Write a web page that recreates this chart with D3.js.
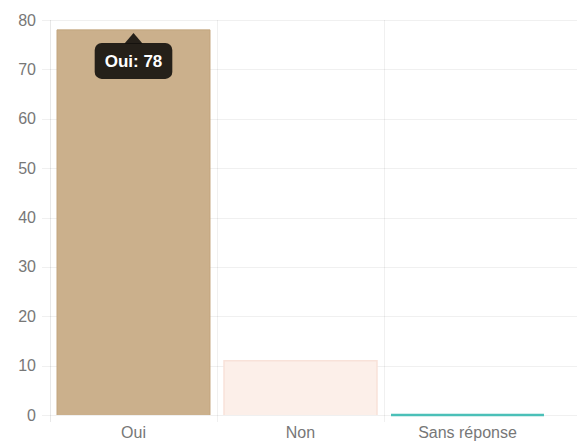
<!DOCTYPE html>
<html>
<head>
<meta charset="utf-8">
<script src="https://cdn.jsdelivr.net/npm/d3@7"></script>
<style>
  html, body { margin: 0; padding: 0; background: #fff; }
  svg { display: block; }
  text { font-family: "Liberation Sans", Arial, Helvetica, sans-serif; }
</style>
</head>
<body>
<script>
// ---- data ----
const categories = ["Oui", "Non", "Sans réponse"];
const values = [78, 11, 0];
const yTickValues = [0, 10, 20, 30, 40, 50, 60, 70, 80];
const tooltipIndex = 0;

// ---- styles ----
const fillColors = ["#cbb08c", "#fcefe9", "rgba(75,192,192,0.2)"];
const strokeColors = ["#c3a57e", "#f8e2d9", "#4bc0b8"];
const strokeWidths = [1, 1.5, 2.5];

const W = 577, H = 442;
const svg = d3.select("body").append("svg").attr("width", W).attr("height", H);

const x = d3.scaleBand().domain(categories).range([50, 551])
  .paddingInner(0.084).paddingOuter(0.042);
const y = d3.scaleLinear().domain([0, 80]).range([415, 20]);

const grid = svg.append("g");
// horizontal grid lines (with tick marks)
grid.selectAll("line.h").data(yTickValues).enter().append("line")
  .attr("x1", 42).attr("x2", W)
  .attr("y1", d => Math.round(y(d)) + 0.5).attr("y2", d => Math.round(y(d)) + 0.5)
  .attr("stroke", "rgba(0,0,0,0.06)").attr("stroke-width", 1);

// vertical grid lines at category boundaries
const bounds = categories.map(c => x(c) - x.step() * x.paddingOuter());
grid.selectAll("line.v").data(bounds).enter().append("line")
  .attr("x1", d => Math.round(d) + 0.5).attr("x2", d => Math.round(d) + 0.5)
  .attr("y1", y(80)).attr("y2", y(0) + 7)
  .attr("stroke", (d, i) => i === 0 ? "rgba(0,0,0,0.09)" : "rgba(0,0,0,0.06)")
  .attr("stroke-width", 1);

// y tick labels
svg.append("g").selectAll("text").data(yTickValues).enter().append("text")
  .attr("x", 36).attr("y", d => y(d)).attr("dy", "0.35em")
  .attr("text-anchor", "end").attr("font-size", 16).attr("fill", "#777")
  .text(d => d);

// x labels
svg.append("g").selectAll("text").data(categories).enter().append("text")
  .attr("x", d => x(d) + x.bandwidth() / 2).attr("y", 438)
  .attr("text-anchor", "middle").attr("font-size", 16).attr("fill", "#777")
  .text(d => d);

// bars
const bars = svg.append("g").selectAll("g").data(categories).enter().append("g");
bars.append("rect")
  .attr("x", d => x(d)).attr("width", x.bandwidth())
  .attr("y", (d, i) => y(values[i]))
  .attr("height", (d, i) => y(0) - y(values[i]))
  .attr("fill", (d, i) => fillColors[i]);
bars.append("path")
  .attr("d", (d, i) => {
    const x0 = x(d), x1 = x(d) + x.bandwidth(), yt = y(values[i]), yb = y(0);
    return `M${x0},${yb}V${yt}H${x1}V${yb}`;
  })
  .attr("fill", "none")
  .attr("stroke", (d, i) => strokeColors[i])
  .attr("stroke-width", (d, i) => strokeWidths[i]);

// tooltip
const tc = categories[tooltipIndex];
const cx = x(tc) + x.bandwidth() / 2;
const tipY = y(values[tooltipIndex]) + 3;
const caret = 9;
const boxTop = tipY + caret + 1;
const boxH = 36;
const tt = svg.append("g");
const label = tt.append("text")
  .attr("x", cx).attr("y", boxTop + boxH / 2).attr("dy", "0.36em")
  .attr("text-anchor", "middle").attr("font-size", 17).attr("font-weight", "bold")
  .attr("fill", "#fff")
  .text(`${tc}: ${values[tooltipIndex]}`);
const tw = label.node().getComputedTextLength();
const boxW = tw + 20;
tt.insert("rect", "text")
  .attr("x", cx - boxW / 2).attr("y", boxTop).attr("width", boxW).attr("height", boxH)
  .attr("rx", 7).attr("fill", "rgba(0,0,0,0.82)");
tt.insert("path", "text")
  .attr("d", `M${cx},${tipY}L${cx + caret},${boxTop + 0.5}L${cx - caret},${boxTop + 0.5}Z`)
  .attr("fill", "rgba(0,0,0,0.82)");
</script>
</body>
</html>
